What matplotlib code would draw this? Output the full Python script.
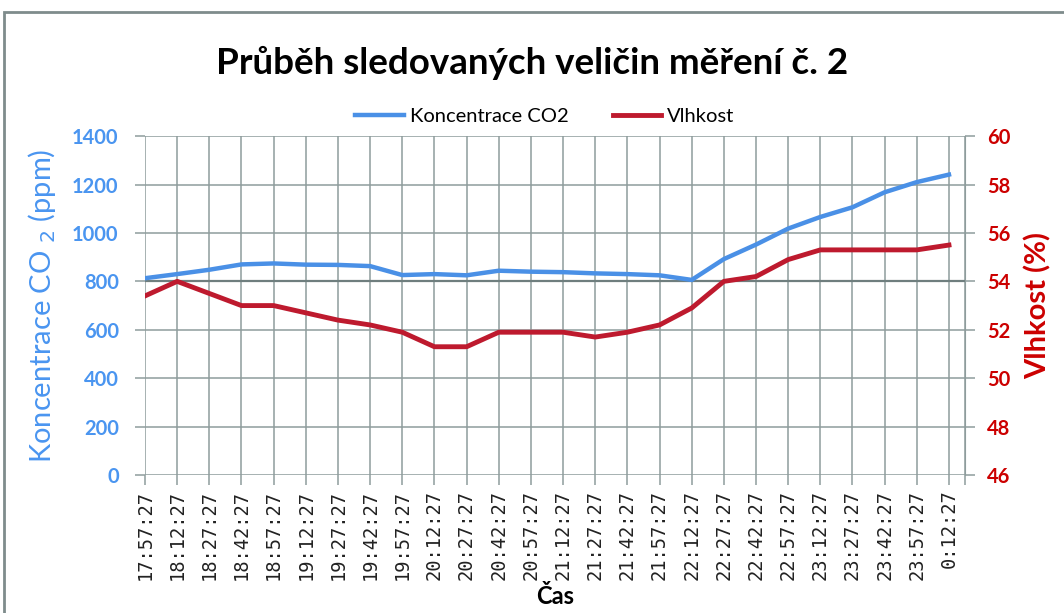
import matplotlib.pyplot as plt
from matplotlib.patches import Rectangle

times = ['17:57:27', '18:12:27', '18:27:27', '18:42:27', '18:57:27', '19:12:27',
         '19:27:27', '19:42:27', '19:57:27', '20:12:27', '20:27:27', '20:42:27',
         '20:57:27', '21:12:27', '21:27:27', '21:42:27', '21:57:27', '22:12:27',
         '22:27:27', '22:42:27', '22:57:27', '23:12:27', '23:27:27', '23:42:27',
         '23:57:27', '0:12:27']
co2 = [813, 830, 848, 870, 874, 869, 868, 863, 826, 830, 825, 844, 840, 838,
       833, 830, 825, 806, 892, 952, 1018, 1066, 1106, 1168, 1210, 1241]  # ppm
vlhkost = [53.4, 54.0, 53.5, 53.0, 53.0, 52.7, 52.4, 52.2, 51.9, 51.3, 51.3,
           51.9, 51.9, 51.9, 51.7, 51.9, 52.2, 52.9, 54.0, 54.2, 54.9, 55.3,
           55.3, 55.3, 55.3, 55.5]  # %

blue = '#4A90E6'
red = '#BE1A2E'
grid = '#8E9C9C'

fig = plt.figure(figsize=(10.64, 6.13), dpi=100)
fig.patches.append(Rectangle((0.004, -0.01), 1.1, 0.99, transform=fig.transFigure,
                             fill=False, edgecolor='#7F8C8C', lw=2))
ax = fig.add_axes([0.1363, 0.225, 0.7707, 0.553])
ax2 = ax.twinx()

x = list(range(len(times)))
l1, = ax.plot(x, co2, color=blue, lw=3.2, label='Koncentrace CO2')
l2, = ax2.plot(x, vlhkost, color=red, lw=3.5, label='Vlhkost')

ax.set_xlim(0, len(times) - 0.5)
ax.set_ylim(0, 1400)
ax2.set_ylim(46, 60)
ax.set_yticks(range(0, 1401, 200))
ax2.set_yticks(range(46, 61, 2))
ax.set_xticks(x + [len(times) - 0.5])
ax.set_xticklabels(times + [''], rotation=90, family='DejaVu Sans Mono',
                   fontsize=13.5, color='#222222')
ax.grid(True, color=grid, lw=1.1)
ax.axhline(800, color='#6F7E7E', lw=1.6, zorder=1)
ax.set_axisbelow(True)

for a in (ax, ax2):
    for s in a.spines.values():
        s.set_visible(False)
    a.tick_params(length=7, width=1.1, color=grid)
ax.spines['right'].set_visible(True)
ax.spines['right'].set_color(grid)

ax.tick_params(axis='y', labelcolor='#4A95F0', labelsize=14.5, pad=12)
ax2.tick_params(axis='y', labelcolor='#CC0000', labelsize=14.5, pad=9)
for t in ax.get_yticklabels():
    t.set_fontweight('bold')
    t.set_family('Lato')
for t in ax2.get_yticklabels():
    t.set_fontweight('bold')
    t.set_family('Lato')

ax.set_ylabel('Koncentrace CO $_2$ (ppm)', color='#4A95F0', fontsize=21,
              family='Lato', labelpad=10)
ax2.set_ylabel('Vlhkost (%)', color='#CC0000', fontsize=21, family='Lato',
               fontweight='bold', labelpad=10)
ax.set_xlabel('Čas', fontsize=17, fontweight='bold', family='Lato', labelpad=4)

fig.suptitle('Průběh sledovaných veličin měření č. 2', fontsize=26.5,
             fontweight='bold', family='Lato', y=0.925)
fig.legend(handles=[l1, l2], loc='center', bbox_to_anchor=(0.512, 0.81), ncol=2,
           frameon=False, prop={'family': 'Lato', 'size': 14.5},
           handlelength=2.4, columnspacing=2.2, handletextpad=0.3)

fig.savefig('out.png', dpi=100)
